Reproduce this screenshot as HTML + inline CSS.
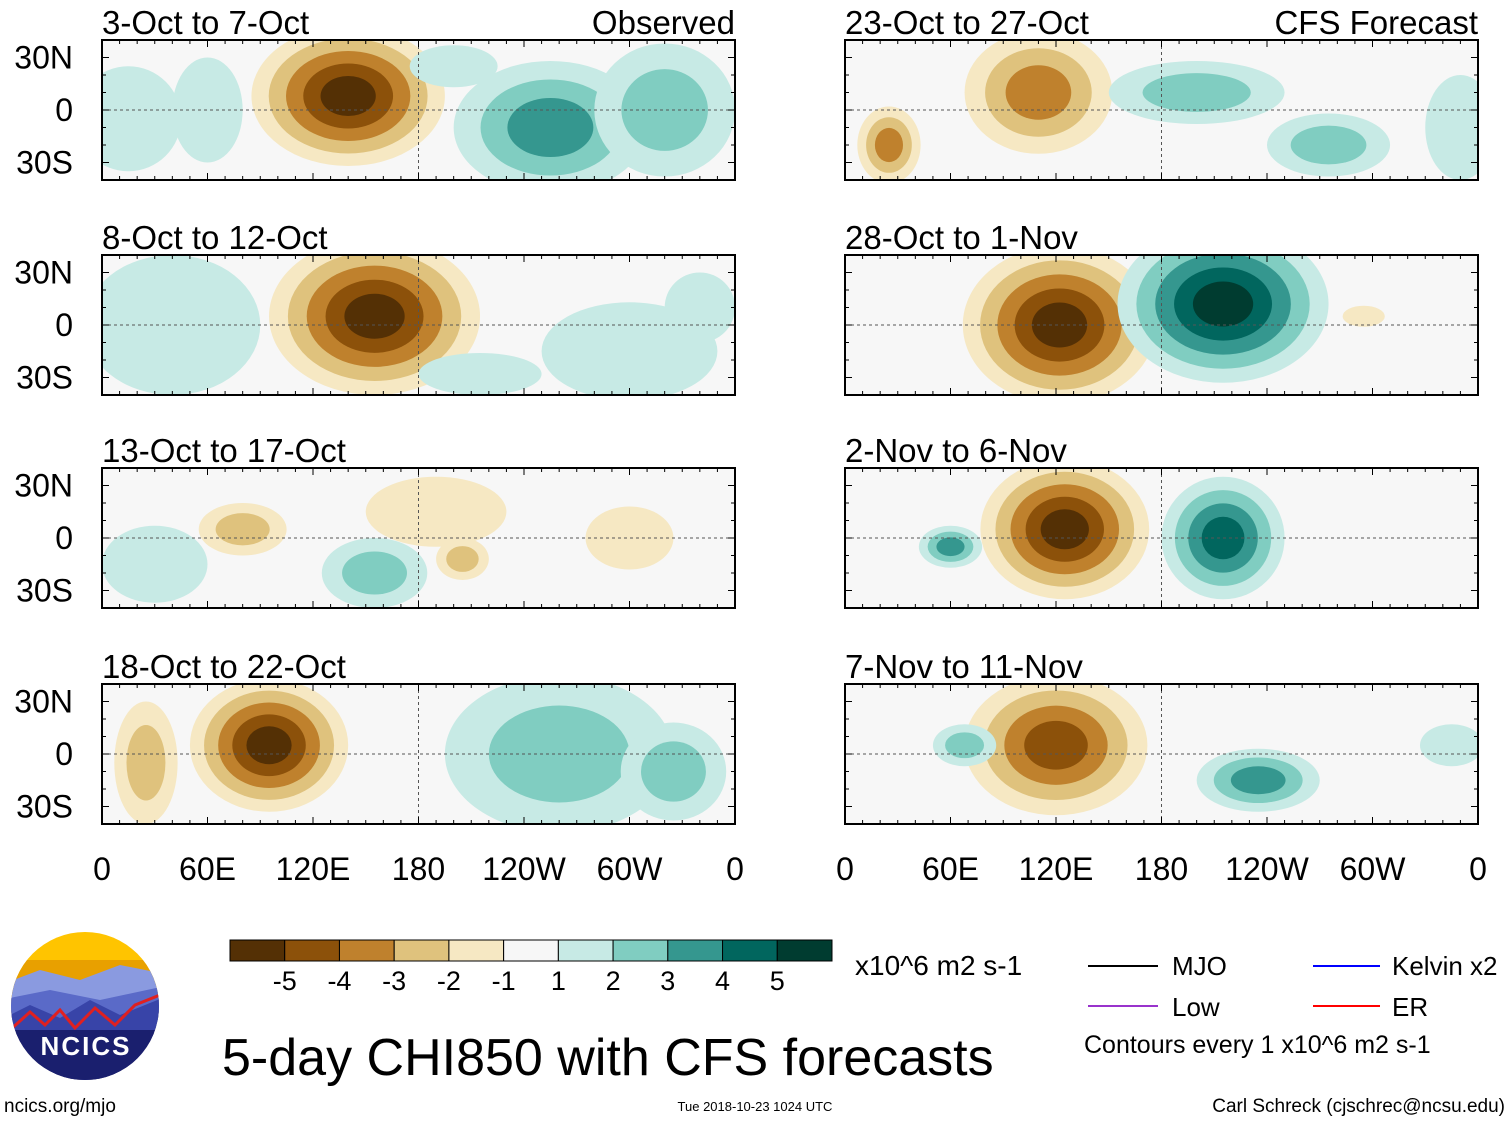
<!DOCTYPE html>
<html><head><meta charset="utf-8"><style>
html,body{margin:0;padding:0;background:#fff;}
svg{display:block;font-family:"Liberation Sans",sans-serif;}
</style></head><body>
<svg id="chart" width="1510" height="1121" viewBox="0 0 1510 1121">
<defs id="defs"></defs>
<g id="panels"></g>
<g id="static">
  <g font-size="32" text-anchor="middle" fill="#000" id="xlabels"></g>
  <g id="colorbar"></g>
  <text x="855" y="975" font-size="28">x10^6 m2 s-1</text>
  <g font-size="26">
    <line x1="1088" y1="966" x2="1158" y2="966" stroke="#000" stroke-width="2"/>
    <text x="1172" y="975">MJO</text>
    <line x1="1313" y1="966" x2="1380" y2="966" stroke="#0000ff" stroke-width="2"/>
    <text x="1392" y="975">Kelvin x2</text>
    <line x1="1088" y1="1006" x2="1158" y2="1006" stroke="#9933cc" stroke-width="2"/>
    <text x="1172" y="1016">Low</text>
    <line x1="1313" y1="1006" x2="1380" y2="1006" stroke="#ff0000" stroke-width="2"/>
    <text x="1392" y="1016">ER</text>
    <text x="1084" y="1053" font-size="25">Contours every 1 x10^6 m2 s-1</text>
  </g>
  <text x="222" y="1075" font-size="52">5-day CHI850 with CFS forecasts</text>
  <g>
    <clipPath id="logoclip"><circle cx="85" cy="1006" r="74"/></clipPath>
    <g clip-path="url(#logoclip)">
      <rect x="0" y="930" width="170" height="160" fill="#ffc400"/>
      <rect x="0" y="960" width="170" height="130" fill="#e8a000"/>
      <path d="M0 985 L40 970 L80 980 L120 965 L170 975 L170 1090 L0 1090Z" fill="#8a9ae0"/>
      <path d="M0 1000 L50 990 L100 1000 L170 985 L170 1090 L0 1090Z" fill="#5a6ac8"/>
      <path d="M0 1020 L30 1005 L60 1018 L90 1000 L120 1015 L170 995 L170 1090 L0 1090Z" fill="#3844a8"/>
      <path d="M10 1030 L30 1012 L45 1025 L60 1010 L75 1028 L95 1008 L115 1025 L135 1005 L160 995" fill="none" stroke="#e02020" stroke-width="3"/>
      <rect x="0" y="1030" width="170" height="60" fill="#1a1f6e"/>
    </g>
    <text x="86" y="1055" font-size="26" font-weight="bold" fill="#fff" text-anchor="middle" letter-spacing="2">NCICS</text>
  </g>
  <text x="4" y="1112" font-size="19">ncics.org/mjo</text>
  <text x="755" y="1111" font-size="13" text-anchor="middle">Tue 2018-10-23 1024 UTC</text>
  <text x="1505" y="1112" font-size="19" text-anchor="end">Carl Schreck (cjschrec@ncsu.edu)</text>
</g>
</svg>
<script>
const colors = ["#543005","#8c510a","#bf812d","#dfc27d","#f6e8c3","#f7f7f7","#c7eae5","#80cdc1","#35978f","#01665e","#003c30"];
const cbLabels = ["-5","-4","-3","-2","-1","1","2","3","4","5"];
const xTickLabels = ["0","60E","120E","180","120W","60W","0"];
const xTickLons = [0,60,120,180,240,300,360];
const yTickLabels = ["30N","0","30S"];
const yTickLats = [30,0,-30];
const panelTitles = ["3-Oct to 7-Oct","8-Oct to 12-Oct","13-Oct to 17-Oct","18-Oct to 22-Oct","23-Oct to 27-Oct","28-Oct to 1-Nov","2-Nov to 6-Nov","7-Nov to 11-Nov"];
// blobs: [lon, lat, lonRadius(deg), latRadius(deg), level]
const blobsP0 = [[140,8,55,40,-5],[15,-5,30,30,1],[60,0,20,30,1],[255,-10,55,38,3],[320,0,40,38,2],[200,25,25,12,1]];
const blobsP1 = [[155,5,60,45,-5],[40,0,50,40,1],[300,-15,50,28,1],[215,-28,35,12,1],[340,10,20,20,1]];
const blobsP2 = [[80,5,25,15,-2],[190,15,40,20,-1],[155,-20,30,20,2],[205,-12,15,12,-2],[30,-15,30,22,1],[300,0,25,18,-1]];
const blobsP3 = [[95,5,45,38,-5],[25,-5,18,35,-2],[260,0,65,45,2],[325,-10,30,28,2]];
const blobsP4 = [[110,10,42,35,-3],[25,-20,18,22,-3],[200,10,50,18,2],[275,-20,35,18,2],[350,-10,20,30,1]];
const blobsP5 = [[122,0,55,45,-5],[215,12,60,45,5],[295,5,12,6,-1]];
const blobsP6 = [[125,5,48,40,-5],[215,0,35,35,4],[60,-5,18,12,3]];
const blobsP7 = [[120,5,52,40,-4],[235,-15,35,18,3],[68,5,18,12,2],[345,5,18,12,1]];
const allBlobs = [blobsP0,blobsP1,blobsP2,blobsP3,blobsP4,blobsP5,blobsP6,blobsP7];

const NS="http://www.w3.org/2000/svg";
const panelsG=document.getElementById('panels');
const defs=document.getElementById('defs');
const lefts=[102,845], tops=[40,255,468,684], PW=633, PH=140;
function xScale(left,lon){return left+lon/360*PW;}
function yScale(top,lat){return top+PH/2-lat/40*(PH/2);}
function mk(tag,attrs,parent){const e=document.createElementNS(NS,tag);for(const k in attrs)e.setAttribute(k,attrs[k]);parent.appendChild(e);return e;}

for(let p=0;p<8;p++){
  const left=lefts[p<4?0:1], top=tops[p%4];
  const g=mk('g',{},panelsG);
  
  
  const cp=mk('clipPath',{id:'cp'+p},defs);
  mk('rect',{x:left,y:top,width:PW,height:PH},cp);
  const inner=mk('g',{'clip-path':'url(#cp'+p+')'},g);
  mk('rect',{x:left,y:top,width:PW,height:PH,fill:colors[5]},inner);
  allBlobs[p].forEach(b=>{
    const [lon,lat,rl,rt,lev]=b;const n=Math.abs(lev);
    for(let k=1;k<=n;k++){
      const f=1-(k-1)/(n+0.6);
      const ci=lev<0?5-k:5+k;
      const e=mk('ellipse',{cx:xScale(left,lon),cy:yScale(top,lat),rx:rl*f/360*PW,ry:rt*f/40*(PH/2),fill:colors[ci]},inner);
      
      
    }
  });
  mk('line',{x1:left,y1:yScale(top,0),x2:left+PW,y2:yScale(top,0),stroke:'#555','stroke-dasharray':'3,3','stroke-width':1},inner);
  mk('line',{x1:xScale(left,180),y1:top,x2:xScale(left,180),y2:top+PH,stroke:'#555','stroke-dasharray':'3,3','stroke-width':1},inner);
  mk('rect',{x:left,y:top,width:PW,height:PH,fill:'none',stroke:'#000','stroke-width':2},g);
  for(let l=0;l<=360;l+=10){
    const x=xScale(left,l);const len=l%60==0?7:4;
    mk('line',{x1:x,y1:top,x2:x,y2:top+len,stroke:'#000'},g);
    mk('line',{x1:x,y1:top+PH,x2:x,y2:top+PH-len,stroke:'#000'},g);
  }
  for(let la=-30;la<=30;la+=10){
    const y=yScale(top,la);const len=la%30==0?7:4;
    mk('line',{x1:left,y1:y,x2:left+len,y2:y,stroke:'#000'},g);
    mk('line',{x1:left+PW,y1:y,x2:left+PW-len,y2:y,stroke:'#000'},g);
  }
  const t=mk('text',{x:left,y:top-6,'font-size':33},g);t.textContent=panelTitles[p];
  
  if(p==0||p==4){const t2=mk('text',{x:left+PW,y:top-6,'font-size':33,'text-anchor':'end'},g);t2.textContent=p==0?'Observed':'CFS Forecast';}
  if(p<4){
    yTickLabels.forEach((s,i)=>{const yt=mk('text',{x:73,y:yScale(top,yTickLats[i])+11,'font-size':32,'text-anchor':'end'},g);yt.textContent=s;
      });
  }
}
const xl=document.getElementById('xlabels');
lefts.forEach(left=>{xTickLabels.forEach((s,i)=>{const t=mk('text',{x:xScale(left,xTickLons[i]),y:880},xl);t.textContent=s;
  });});
const cb=document.getElementById('colorbar');
const cbx=230,cbw=602/11;
colors.forEach((c,i)=>{const r=mk('rect',{x:cbx+i*cbw,y:940,width:cbw,height:21,fill:c,stroke:'#000','stroke-width':1},cb);
  });
cbLabels.forEach((s,i)=>{const t=mk('text',{x:cbx+(i+1)*cbw,y:990,'font-size':27,'text-anchor':'middle'},cb);t.textContent=s;});
</script>
</body></html>
